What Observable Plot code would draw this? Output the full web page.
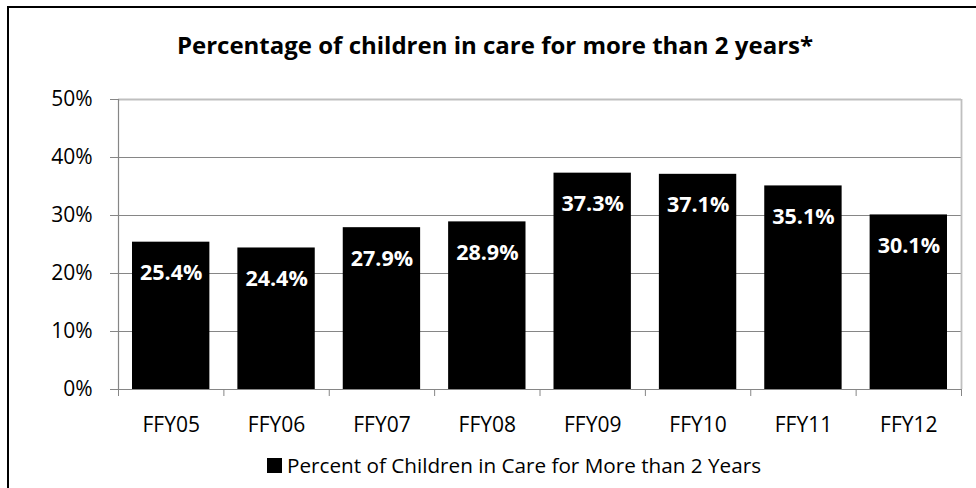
<!DOCTYPE html>
<html><head><meta charset="utf-8">
<script src="https://cdn.jsdelivr.net/npm/d3@7"></script>
<script src="https://cdn.jsdelivr.net/npm/@observablehq/plot@0.6"></script>
<style>
html,body{margin:0;padding:0;overflow:hidden;background:#fff;width:976px;height:488px;}
#frame{position:absolute;left:7px;top:6px;width:1000px;height:520px;border:2px solid #000;box-sizing:border-box;}
#title{position:absolute;top:28px;left:0;width:990px;text-align:center;font:bold 24px "Open Sans";color:#000;white-space:nowrap;}
#chart{position:absolute;left:0;top:70px;}
#legend{position:absolute;left:267px;top:451px;font:20.7px "Open Sans";color:#000;display:flex;align-items:center;white-space:nowrap;}
#legend .sw{width:15px;height:15px;background:#000;margin-right:5px;}
</style>
</head><body>
<div id="frame"></div>
<div id="title">Percentage of children in care for more than 2 years*</div>
<div id="chart"></div>
<div id="legend"><span class="sw"></span><span>Percent of Children in Care for More than 2 Years</span></div>
<script>
const categories = ["FFY05","FFY06","FFY07","FFY08","FFY09","FFY10","FFY11","FFY12"];
const values = [25.4, 24.4, 27.9, 28.9, 37.3, 37.1, 35.1, 30.1];
const yTicks = [0, 10, 20, 30, 40, 50];
const gridTicks = [10, 20, 30, 40];

const data = categories.map((c, i) => ({category: c, index: i, value: values[i]}));
const n = categories.length;

const chart = Plot.plot({
  width: 976, height: 380,
  marginLeft: 118, marginRight: 15, marginTop: 29, marginBottom: 61,
  style: {fontFamily: "Open Sans", fontSize: "21px", color: "#000", background: "transparent"},
  x: {domain: [0, n], axis: null},
  y: {domain: [0, 50], axis: null},
  marks: [
    Plot.ruleY(gridTicks, {stroke: "#868686", strokeWidth: 1.2}),
    Plot.ruleY([50], {stroke: "#bfbfbf", strokeWidth: 1.8}),
    Plot.ruleX([n], {stroke: "#bfbfbf", strokeWidth: 1.8}),
    Plot.rectY(data, {x1: "index", x2: d => d.index + 1, y: "value", fill: "#000", insetLeft: 14, insetRight: 14}),
    Plot.ruleY([0], {stroke: "#868686", strokeWidth: 1.2}),
    Plot.ruleX([0], {stroke: "#868686", strokeWidth: 1.2}),
    Plot.axisY({ticks: yTicks, tickFormat: d => d + "%", tickSize: 8, tickPadding: 18, stroke: "#868686", fill: "#000", fontSize: 21, label: null}),
    Plot.axisX({ticks: d3.range(n + 1), tickFormat: () => "", tickSize: 7, stroke: "#868686", label: null}),
    Plot.axisX({ticks: d3.range(n).map(i => i + 0.5), tickFormat: t => categories[Math.floor(t)], tickSize: 0, tickPadding: 28, fill: "#000", fontSize: 21, label: null}),
    Plot.text(data, {x: d => d.index + 0.5, y: "value", text: d => d.value.toFixed(1) + "%", fill: "#fff", fontWeight: "bold", fontSize: 21.5, dy: 31})
  ]
});
document.getElementById("chart").appendChild(chart);
</script>
</body></html>
